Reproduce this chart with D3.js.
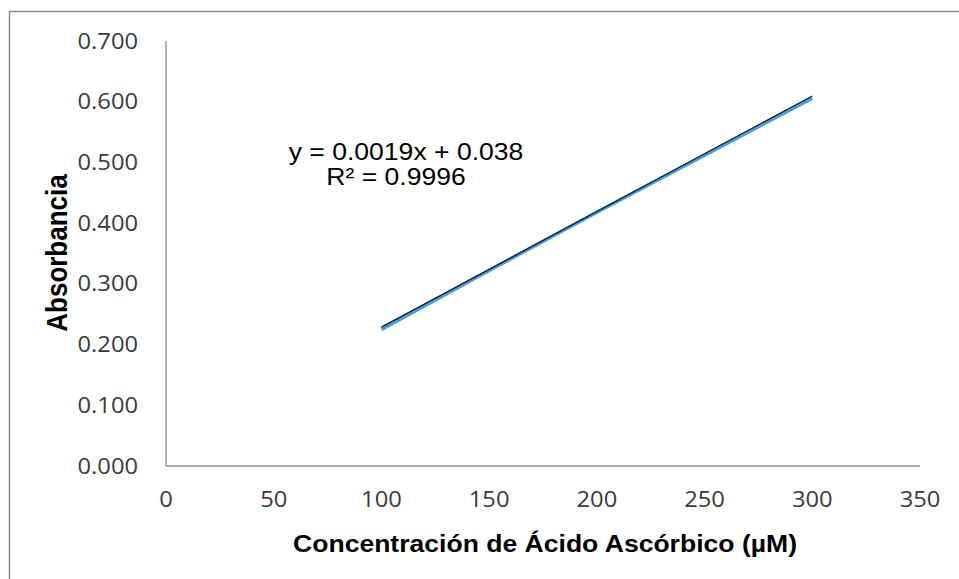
<!DOCTYPE html>
<html>
<head>
<meta charset="utf-8">
<script src="https://cdn.jsdelivr.net/npm/d3@7"></script>
<style>
  html, body { margin: 0; padding: 0; background: #fff; }
  svg { display: block; }
</style>
</head>
<body>
<svg id="chart" width="959" height="579"></svg>
<script>
// values
const concentrations = [100, 150, 200, 250, 300];
const absorbances = [0.225, 0.322, 0.418, 0.512, 0.606];
const xTicks = [0, 50, 100, 150, 200, 250, 300, 350];
const yTicks = [0, 0.1, 0.2, 0.3, 0.4, 0.5, 0.6, 0.7];
const equationLines = ["y = 0.0019x + 0.038", "R² = 0.9996"];

const svg = d3.select("#chart");
const sx = 1.13; // picture is a bit stretched sideways

// chart border
svg.append("path")
  .attr("d", "M9.5,579 V11.5 H959")
  .attr("fill", "none")
  .attr("stroke", "#8c8c8c")
  .attr("stroke-width", 1.5);

const x = d3.scaleLinear().domain([0, 350]).range([166, 920]);
const y = d3.scaleLinear().domain([0, 0.7]).range([466, 41]);

function stretchedText(px, py, str) {
  return svg.append("text")
    .attr("transform", `translate(${px},${py}) scale(${sx},1)`)
    .text(str);
}

// axes lines
svg.append("line")
  .attr("x1", x(0)).attr("x2", x(350))
  .attr("y1", y(0)).attr("y2", y(0))
  .attr("stroke", "#8c8c8c").attr("stroke-width", 1.3);
svg.append("line")
  .attr("x1", x(0)).attr("x2", x(0))
  .attr("y1", y(0)).attr("y2", y(0.7))
  .attr("stroke", "#8c8c8c").attr("stroke-width", 1.3);

// tick labels
xTicks.forEach(t => {
  stretchedText(x(t), 507, String(t))
    .attr("text-anchor", "middle")
    .style("font-family", "Open Sans")
    .style("font-size", "21px")
    .attr("fill", "#3a3a3a");
});
yTicks.forEach(t => {
  stretchedText(138, y(t) + 7.5, d3.format(".3f")(t))
    .attr("text-anchor", "end")
    .style("font-family", "Open Sans")
    .style("font-size", "21px")
    .attr("fill", "#3a3a3a");
});

// data line
const line = d3.line().x((d, i) => x(concentrations[i])).y(d => y(d));
svg.append("path")
  .datum(absorbances)
  .attr("d", line)
  .attr("fill", "none")
  .attr("stroke", "#4a9ee0")
  .attr("stroke-width", 3.6);

// linear trendline (least squares)
const mx = d3.mean(concentrations), my = d3.mean(absorbances);
const slope = d3.sum(concentrations, (c, i) => (c - mx) * (absorbances[i] - my)) /
              d3.sum(concentrations, c => (c - mx) * (c - mx));
const intercept = my - slope * mx;
const ends = d3.extent(concentrations);
svg.append("line")
  .attr("x1", x(ends[0])).attr("y1", y(slope * ends[0] + intercept) - 1.5)
  .attr("x2", x(ends[1])).attr("y2", y(slope * ends[1] + intercept) - 1.5)
  .attr("stroke", "#1a1a1a")
  .attr("stroke-width", 1.3);

// equation
stretchedText(406, 160, equationLines[0])
  .attr("text-anchor", "middle")
  .style("font-family", "Liberation Sans")
  .style("font-size", "23.5px")
  .attr("fill", "#000");
stretchedText(396, 185, equationLines[1])
  .attr("text-anchor", "middle")
  .style("font-family", "Liberation Sans")
  .style("font-size", "23.5px")
  .attr("fill", "#000");

// axis titles
stretchedText(545, 552, "Concentración de Ácido Ascórbico (µM)")
  .attr("text-anchor", "middle")
  .style("font-family", "Liberation Sans")
  .style("font-size", "23.5px")
  .style("font-weight", "bold")
  .attr("fill", "#000");

svg.append("text")
  .attr("transform", `translate(67,253) scale(${sx},1) rotate(-90)`)
  .attr("text-anchor", "middle")
  .style("font-family", "Liberation Sans")
  .style("font-size", "26px")
  .style("font-weight", "bold")
  .attr("fill", "#000")
  .text("Absorbancia");
</script>
</body>
</html>
